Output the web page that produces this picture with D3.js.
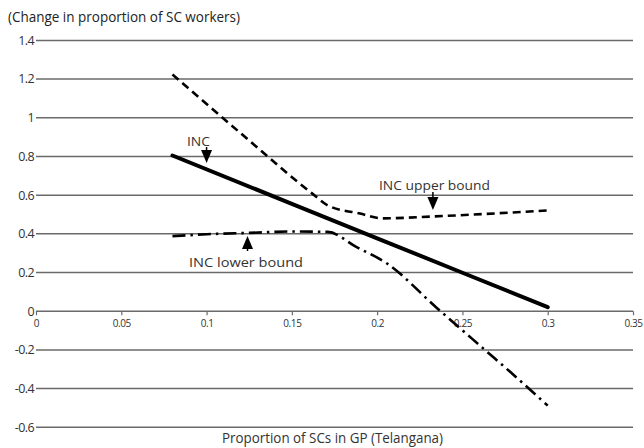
<!DOCTYPE html>
<html><head><meta charset="utf-8">
<script src="https://cdn.jsdelivr.net/npm/d3@7"></script>
<style>
body{margin:0;background:#fff;}
svg{display:block;font-family:"Open Sans","Noto Sans",sans-serif;}
</style></head>
<body>
<svg id="c" width="644" height="448"></svg>
<script>
// ---- data ----
const yTicks = [-0.6,-0.4,-0.2,0,0.2,0.4,0.6,0.8,1,1.2,1.4];
const yTickLabels = ["-0.6","-0.4","-0.2","0","0.2","0.4","0.6","0.8","1","1.2","1.4"];
const xTicks = [0,0.05,0.1,0.15,0.2,0.25,0.3,0.35];
const xTickLabels = ["0","0.05","0.1","0.15","0.2","0.25","0.3","0.35"];

const incX = [0.08, 0.15, 0.2, 0.25, 0.3];
const incY = [0.805, 0.555, 0.377, 0.199, 0.021];

const upperX = [0.08, 0.12, 0.162, 0.171, 0.19, 0.203, 0.233, 0.3];
const upperY = [1.224, 0.92, 0.608, 0.547, 0.505, 0.48, 0.49, 0.521];

const lowerX = [0.08, 0.1, 0.125, 0.15, 0.171, 0.188, 0.2056, 0.2345, 0.2636, 0.2778, 0.3];
const lowerY = [0.388, 0.398, 0.405, 0.412, 0.41, 0.331, 0.248, 0.021, -0.203, -0.312, -0.488];

const yTitle = "(Change in proportion of SC workers)";
const xTitle = "Proportion of SCs in GP (Telangana)";

// ---- chart ----
const svg = d3.select("#c");
const x = d3.scaleLinear().domain([0,0.35]).range([36,633]);
const y = d3.scaleLinear().domain([-0.6,1.4]).range([427.3,40.4]);

// gridlines
svg.append("g").selectAll("line").data(yTicks).join("line")
  .attr("x1", x(0)).attr("x2", x(0.35))
  .attr("y1", d=>y(d)).attr("y2", d=>y(d))
  .attr("stroke", "#6a6a6a").attr("stroke-width", 1.5);

// y labels
svg.append("g").selectAll("text").data(yTicks).join("text")
  .attr("x", 34).attr("y", d=>y(d)).attr("dy","0.35em")
  .attr("text-anchor","end").attr("font-size", 12.5).attr("fill","#333")
  .attr("letter-spacing", -0.6)
  .text((d,i)=>yTickLabels[i]);

// x axis
const xAxis = d3.axisBottom(x).tickValues(xTicks).tickSize(4)
  .tickFormat((d,i)=>xTickLabels[i]);
const gx = svg.append("g").attr("transform",`translate(0,${y(0)})`).call(xAxis);
gx.select(".domain").remove();
gx.selectAll(".tick line").attr("stroke","#6a6a6a").attr("stroke-width",1.2);
gx.selectAll(".tick text").attr("font-size",10).attr("fill","#333").attr("y",9)
  .attr("font-family","'Open Sans','Noto Sans',sans-serif").attr("letter-spacing",-0.4);

// lines
const mk = (xs, ys) => xs.map((v,i)=>[v, ys[i]]);
const lineLin = d3.line().x(d=>x(d[0])).y(d=>y(d[1]));
const lineSm = d3.line().x(d=>x(d[0])).y(d=>y(d[1])).curve(d3.curveMonotoneX);

svg.append("path").datum(mk(upperX, upperY)).attr("d", lineSm)
  .attr("fill","none").attr("stroke","#000").attr("stroke-width",2.6)
  .attr("stroke-dasharray","8,5");
svg.append("path").datum(mk(lowerX, lowerY)).attr("d", lineSm)
  .attr("fill","none").attr("stroke","#000").attr("stroke-width",2.6)
  .attr("stroke-dasharray","13,5,2.5,5");
svg.append("path").datum(mk(incX, incY)).attr("d", lineLin)
  .attr("fill","none").attr("stroke","#000").attr("stroke-width",4)
  .attr("stroke-linecap","round");

// annotations
function arrowDown(cx, yTop, yTip){
  svg.append("line").attr("x1",cx).attr("x2",cx).attr("y1",yTop).attr("y2",yTip-10)
    .attr("stroke","#000").attr("stroke-width",1.5);
  svg.append("path").attr("d",`M${cx-5.5},${yTip-13}L${cx+5.5},${yTip-13}L${cx},${yTip}Z`).attr("fill","#000");
}
function arrowUp(cx, yTip, yBot){
  svg.append("line").attr("x1",cx).attr("x2",cx).attr("y1",yTip+10).attr("y2",yBot)
    .attr("stroke","#000").attr("stroke-width",1.5);
  svg.append("path").attr("d",`M${cx-5.5},${yTip+13}L${cx+5.5},${yTip+13}L${cx},${yTip}Z`).attr("fill","#000");
}
const lab = (tx, ty, t, w) => {
  const e = svg.append("text").attr("x",tx).attr("y",ty).attr("dy","0.35em")
    .attr("font-size",13).attr("fill","#333").text(t);
  if (w) e.attr("textLength", w).attr("lengthAdjust","spacingAndGlyphs");
};
lab(187, 141, "INC", 23);
arrowDown(x(0.1), 147, 163);
lab(379, 185, "INC upper bound", 111);
arrowDown(x(0.2327), 192, 210);
lab(189, 262, "INC lower bound", 114);
arrowUp(x(0.124), 236, 251);

// titles
svg.append("text").attr("x",8).attr("y",17).attr("dy","0.35em")
  .attr("font-size",14).attr("fill","#222")
  .attr("textLength",232).attr("lengthAdjust","spacingAndGlyphs").text(yTitle);
svg.append("text").attr("x",222).attr("y",438).attr("dy","0.35em")
  .attr("font-size",14).attr("fill","#333")
  .attr("textLength",221).attr("lengthAdjust","spacingAndGlyphs").text(xTitle);
</script>
</body></html>
